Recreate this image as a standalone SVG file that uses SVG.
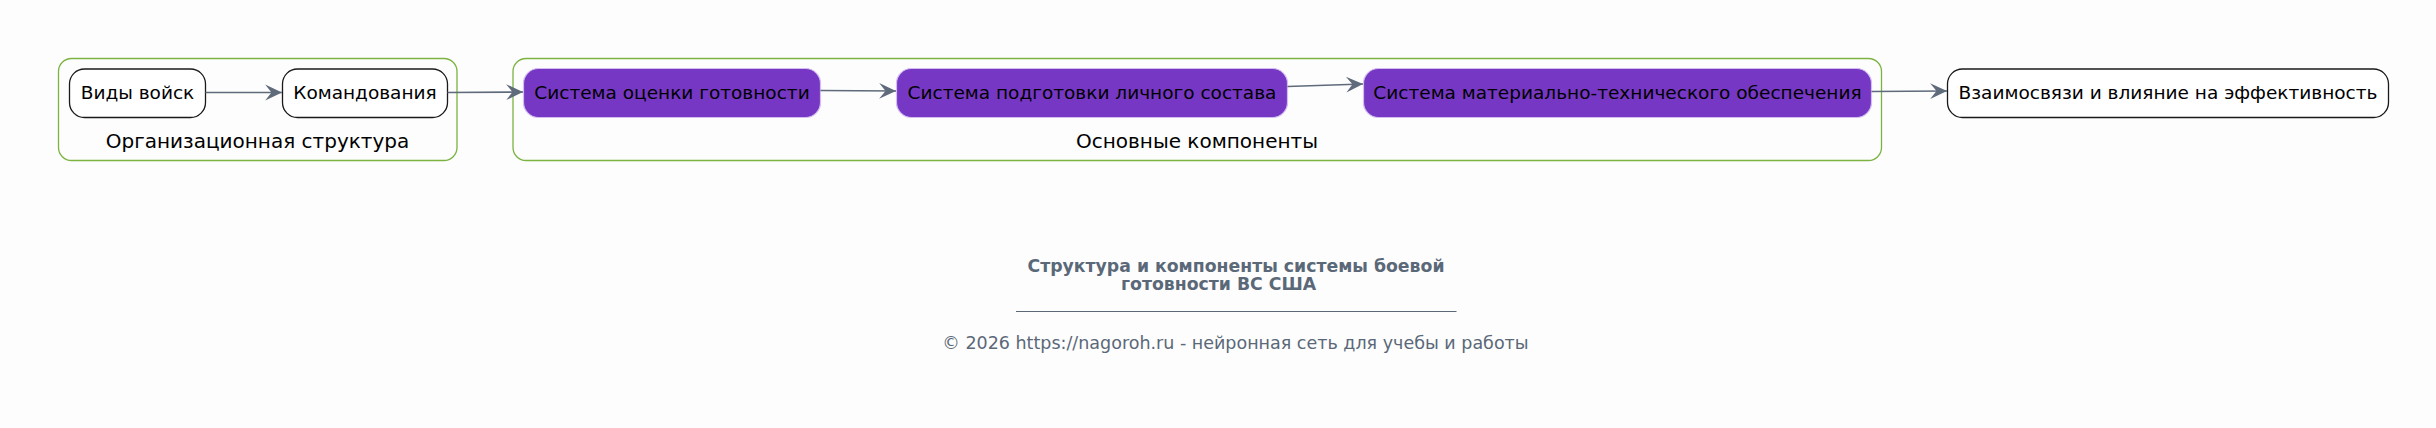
<svg xmlns="http://www.w3.org/2000/svg" width="2436" height="428" viewBox="0 0 2436 428">
<style>
.bg{fill:#FDFDFD}
.cl{fill:none;stroke:#7CB342;stroke-width:1.3}
.wn{fill:#FFFFFF;stroke:#1A1A1A;stroke-width:1.3}
.pn{fill:#7638C4;stroke:#D2BCF0;stroke-width:1.2}
.t{font-family:"DejaVu Sans",sans-serif;font-size:18.5px;fill:#000000;text-anchor:middle}
.cll{font-family:"DejaVu Sans",sans-serif;font-size:20px;fill:#000000;text-anchor:middle}
.e{fill:none;stroke:#5F6B7A;stroke-width:1.6}
.ti{font-family:"DejaVu Sans",sans-serif;font-size:17.3px;font-weight:bold;fill:#5A6878}
.ft{font-family:"DejaVu Sans",sans-serif;font-size:17.5px;fill:#5A6878;text-anchor:middle}
</style>
<defs>
<marker id="ah" markerUnits="userSpaceOnUse" markerWidth="20" markerHeight="20" viewBox="-17 -9 19 18" refX="0" refY="0" orient="auto">
<path d="M0,0 L-16,-7.5 L-10,0 L-16,7.5 Z" fill="#5F6B7A"/>
</marker>
</defs>
<rect class="bg" x="0" y="0" width="2436" height="428"/>
<g id="cluster-org">
<rect class="cl" x="58.5" y="58.5" width="398.5" height="102" rx="13"/>
<text class="cll" x="257.5" y="148.3">Организационная структура</text>
</g>
<g id="cluster-main">
<rect class="cl" x="513" y="58.5" width="1368.5" height="102" rx="13"/>
<text class="cll" x="1197" y="148.3">Основные компоненты</text>
</g>
<g id="node-vidy">
<rect class="wn" x="69.5" y="69" width="136" height="48.5" rx="15"/>
<text class="t" x="137.5" y="98.8">Виды войск</text>
</g>
<g id="node-komand">
<rect class="wn" x="282.5" y="69" width="165" height="48.5" rx="15"/>
<text class="t" x="365" y="98.8">Командования</text>
</g>
<g id="node-ocenka">
<rect class="pn" x="523.5" y="68.5" width="297" height="49" rx="15"/>
<text class="t" x="672" y="98.8">Система оценки готовности</text>
</g>
<g id="node-podgotovka">
<rect class="pn" x="896.5" y="68.5" width="391" height="49" rx="15"/>
<text class="t" x="1092" y="98.8">Система подготовки личного состава</text>
</g>
<g id="node-mto">
<rect class="pn" x="1363.5" y="68.5" width="508" height="49" rx="15"/>
<text class="t" x="1617.5" y="98.8">Система материально-технического обеспечения</text>
</g>
<g id="node-vzaimo">
<rect class="wn" x="1947.5" y="69" width="441" height="48.5" rx="15"/>
<text class="t" x="2168" y="98.8">Взаимосвязи и влияние на эффективность</text>
</g>
<g id="connectors">
<path class="e" d="M205.5,92.5 L282,92.5" marker-end="url(#ah)"/>
<path class="e" d="M447.5,92.5 L523,92" marker-end="url(#ah)"/>
<path class="e" d="M820.5,90.5 L896,91" marker-end="url(#ah)"/>
<path class="e" d="M1287.5,86.5 L1363,84" marker-end="url(#ah)"/>
<path class="e" d="M1871.5,91.5 L1947,91" marker-end="url(#ah)"/>
</g>
<g id="title">
<text class="ti" x="1236" y="271.7" text-anchor="middle">Структура и компоненты системы боевой</text>
<text class="ti" x="1121" y="290">готовности ВС США</text>
<line x1="1016" y1="311.5" x2="1456.5" y2="311.5" stroke="#5A6878" stroke-width="1"/>
<text class="ft" x="1235.5" y="349.3">© 2026 https://nagoroh.ru - нейронная сеть для учебы и работы</text>
</g>
</svg>
